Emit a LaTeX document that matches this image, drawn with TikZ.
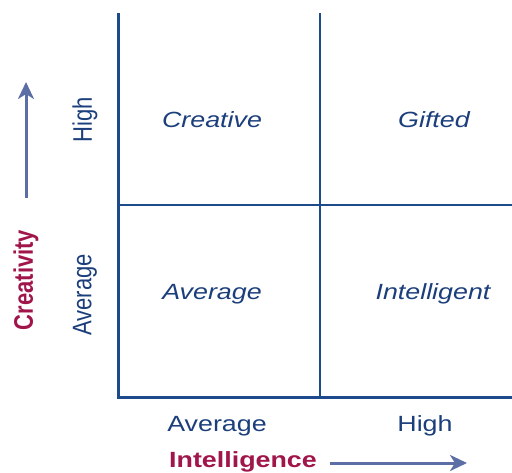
\documentclass[tikz,border=0pt]{standalone}
\usepackage{fontspec}
\setmainfont{Liberation Sans}
\usetikzlibrary{arrows.meta}
\definecolor{navy}{HTML}{1C3F7C}
\definecolor{axisblue}{HTML}{1D4A8A}
\definecolor{arrowblue}{HTML}{5B6FA6}
\definecolor{crimson}{HTML}{A0154A}
\tikzset{
  lbl/.style={text=navy, inner sep=0pt, font=\fontsize{22}{24}\selectfont},
  quad/.style={lbl, font=\fontsize{22}{24}\selectfont\itshape},
  axtitle/.style={text=crimson, inner sep=0pt, font=\fontsize{22}{24}\selectfont\bfseries},
  axisline/.style={draw=axisblue, line width=3pt},
  gridline/.style={draw=axisblue, line width=1.6pt},
  dirarrow/.style={draw=arrowblue, line width=3pt, -{Stealth[length=17pt,width=16pt,inset=5pt]}}
}
\newcommand{\hx}[1]{\scalebox{1.22}[1]{#1}}
\newcommand{\vx}[1]{\scalebox{1}[1.22]{#1}}
\begin{document}
\begin{tikzpicture}[x=1pt,y=-1pt]
\useasboundingbox (0,0) rectangle (512,472);
% grid
\coordinate (tl) at (118,13);
\coordinate (bl) at (118,397);
\coordinate (br) at (512,397);
\coordinate (mt) at (320,13);
\coordinate (mb) at (320,397);
\coordinate (ml) at (118,205);
\coordinate (mr) at (512,205);
\draw[gridline] (mt) -- (mb);
\draw[gridline] (ml) -- (mr);
\draw[axisline] (tl) -- (bl) -- (br);
% quadrant labels
\node[quad] (creative) at (212,120) {\hx{Creative}};
\node[quad] (gifted) at (434,120) {\hx{Gifted}};
\node[quad] (avgq) at (212,294) {\hx{Average}};
\node[quad] (intel) at (433,294) {\hx{Intelligent}};
% y axis labels
\node[lbl, rotate=90] (yhigh) at (85,120) {\vx{High}};
\node[lbl, rotate=90] (yavg) at (85,295) {\vx{Average}};
\node[axtitle, rotate=90] (ytitle) at (26,280) {\vx{Creativity}};
\coordinate (yarrs) at (26,198);
\coordinate (yarre) at (26,82);
\draw[dirarrow] (yarrs) -- (yarre);
% x axis labels
\node[lbl] (xavg) at (217,426) {\hx{Average}};
\node[lbl] (xhigh) at (425,426) {\hx{High}};
\node[axtitle] (xtitle) at (243,462) {\hx{Intelligence}};
\coordinate (xarre) at (467,463);
\draw[dirarrow] ([xshift=13pt]xtitle.east |- 0,463) -- (xarre);
\end{tikzpicture}
\end{document}
